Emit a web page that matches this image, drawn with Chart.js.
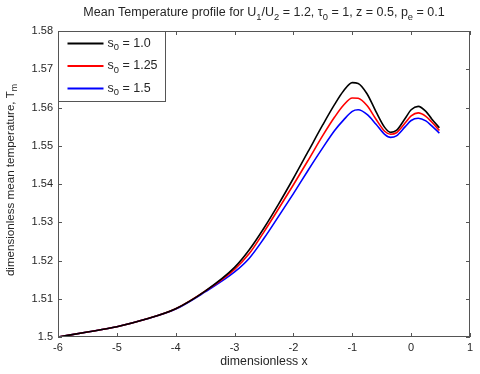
<!DOCTYPE html>
<html>
<head>
<meta charset="utf-8">
<script src="https://cdn.jsdelivr.net/npm/chart.js@4.4.1/dist/chart.umd.min.js"></script>
<style>
  html, body { margin: 0; padding: 0; background: #fff; }
  #wrap { width: 480px; height: 374px; }
</style>
</head>
<body>
<div id="wrap"><canvas id="chart" width="480" height="374"></canvas></div>
<script>
// values
const xs = [-6, -5.5, -5, -4.5, -4, -3.5, -3, -2.75, -2.5, -2.25, -2, -1.75, -1.5, -1.3, -1.15, -1.0, -0.9, -0.75, -0.6, -0.45, -0.35, -0.25, -0.1, 0.0, 0.12, 0.25, 0.35, 0.48];
const tS10  = [1.5, 1.5013, 1.5027, 1.5047, 1.5074, 1.5120, 1.5182, 1.5228, 1.5285, 1.5348, 1.5415, 1.5485, 1.5555, 1.5608, 1.5643, 1.5665, 1.5663, 1.5636, 1.5590, 1.5548, 1.5535, 1.5540, 1.5572, 1.5594, 1.5603, 1.5590, 1.5570, 1.5547];
const tS125 = [1.5, 1.5013, 1.5027, 1.5047, 1.5074, 1.5120, 1.5177, 1.5218, 1.5275, 1.5336, 1.5398, 1.5462, 1.5527, 1.5575, 1.5606, 1.5625, 1.5624, 1.5605, 1.5570, 1.5538, 1.5530, 1.5534, 1.5560, 1.5578, 1.5586, 1.5577, 1.5562, 1.5540];
const tS15  = [1.5, 1.5013, 1.5027, 1.5047, 1.5073, 1.5118, 1.5170, 1.5206, 1.5258, 1.5316, 1.5375, 1.5436, 1.5495, 1.5540, 1.5567, 1.5590, 1.5594, 1.5582, 1.5557, 1.5530, 1.5522, 1.5526, 1.5550, 1.5566, 1.5572, 1.5565, 1.5552, 1.5533];

const seriesNames = ['s_{0} = 1.0', 's_{0} = 1.25', 's_{0} = 1.5'];
const seriesColors = ['#000000', '#ff0000', '#0000ff'];
const xTicks = [-6, -5, -4, -3, -2, -1, 0, 1];
const yTicks = [1.5, 1.51, 1.52, 1.53, 1.54, 1.55, 1.56, 1.57, 1.58];

const titleText = 'Mean Temperature profile for U_{1}/U_{2} = 1.2, \u03c4_{0} = 1, z = 0.5, p_{e} = 0.1';
const xLabel = 'dimensionless x';
const yLabel = 'dimensionless mean temperature, T_{m}';

const FONT = '"Liberation Sans", Arial, sans-serif';
const AXIS = '#555';
const TEXT = '#262626';

// text with _{...} subscripts, drawn MATLAB-style
function parseRich(str) {
    const out = [];
    const re = /_\{([^}]*)\}/g;
    let last = 0, m;
    while ((m = re.exec(str))) {
        if (m.index > last) out.push({ t: str.slice(last, m.index), sub: false });
        out.push({ t: m[1], sub: true });
        last = re.lastIndex;
    }
    if (last < str.length) out.push({ t: str.slice(last), sub: false });
    return out;
}

function richWidth(ctx, segs, size) {
    let w = 0;
    segs.forEach(s => {
        ctx.font = (s.sub ? size * 0.75 : size) + 'px ' + FONT;
        w += ctx.measureText(s.t).width;
    });
    return w;
}

function drawRich(ctx, str, x, y, size, align) {
    const segs = parseRich(str);
    const w = richWidth(ctx, segs, size);
    let cx = align === 'center' ? x - w / 2 : x;
    ctx.textBaseline = 'middle';
    ctx.textAlign = 'left';
    segs.forEach(s => {
        ctx.font = (s.sub ? size * 0.75 : size) + 'px ' + FONT;
        ctx.fillText(s.t, cx, s.sub ? y + size * 0.35 : y);
        cx += ctx.measureText(s.t).width;
    });
}

const frame = {
    id: 'frame',
    afterDatasetsDraw(chart) {
        const { ctx, chartArea: a, scales } = chart;
        ctx.save();
        ctx.strokeStyle = AXIS;
        ctx.lineWidth = 1;
        ctx.strokeRect(Math.round(a.left) + 0.5, Math.round(a.top) + 0.5,
            Math.round(a.right - a.left) - 1, Math.round(a.bottom - a.top) - 1);
        const tl = 4;
        ctx.beginPath();
        xTicks.forEach(v => {
            const px = Math.round(scales.x.getPixelForValue(v)) + 0.5;
            ctx.moveTo(px, a.bottom); ctx.lineTo(px, a.bottom - tl);
            ctx.moveTo(px, a.top); ctx.lineTo(px, a.top + tl);
        });
        yTicks.forEach(v => {
            const py = Math.round(scales.y.getPixelForValue(v)) + 0.5;
            ctx.moveTo(a.left, py); ctx.lineTo(a.left + tl, py);
            ctx.moveTo(a.right, py); ctx.lineTo(a.right - tl, py);
        });
        ctx.stroke();

        // legend box, top-left corner of the axes
        const lx = Math.round(a.left) + 0.5, ly = Math.round(a.top) + 0.5;
        const lw = 107, lh = 70;
        ctx.fillStyle = '#fff';
        ctx.fillRect(lx, ly, lw, lh);
        ctx.strokeRect(lx, ly, lw, lh);
        chart.data.datasets.forEach((ds, i) => {
            const yy = ly + 12 + i * 22.5;
            ctx.strokeStyle = ds.borderColor;
            ctx.lineWidth = 2;
            ctx.beginPath();
            ctx.moveTo(lx + 9, yy); ctx.lineTo(lx + 45, yy);
            ctx.stroke();
            ctx.fillStyle = TEXT;
            drawRich(ctx, seriesNames[i], lx + 49, yy, 12.5, 'left');
        });

        // title and axis labels
        ctx.fillStyle = TEXT;
        drawRich(ctx, titleText, (a.left + a.right) / 2, 13, 12.5, 'center');
        drawRich(ctx, xLabel, (a.left + a.right) / 2, 362, 12.3, 'center');
        ctx.translate(11, 180);
        ctx.rotate(-Math.PI / 2);
        drawRich(ctx, yLabel, 0, 0, 11.6, 'center');
        ctx.restore();
    }
};

const datasets = [tS10, tS125, tS15].map((vals, i) => ({
    label: seriesNames[i],
    data: xs.map((x, j) => ({ x: x, y: vals[j] })),
    borderColor: seriesColors[i],
    borderWidth: 1.6,
    pointRadius: 0,
    fill: false,
    cubicInterpolationMode: 'monotone'
}));

new Chart(document.getElementById('chart'), {
    type: 'line',
    data: { datasets: datasets },
    options: {
        responsive: false,
        animation: false,
        layout: { padding: { top: 31, right: 10, left: 0, bottom: 0 } },
        plugins: { legend: { display: false }, title: { display: false }, tooltip: { enabled: false } },
        scales: {
            x: {
                type: 'linear',
                min: -6, max: 1,
                afterBuildTicks: s => { s.ticks = xTicks.map(v => ({ value: v })); },
                afterFit: s => { s.height = 37; },
                grid: { display: false, drawTicks: false },
                border: { display: false },
                ticks: { color: TEXT, font: { family: FONT, size: 11 }, padding: 4, maxRotation: 0,
                         callback: v => String(v) }
            },
            y: {
                min: 1.5, max: 1.58,
                afterBuildTicks: s => { s.ticks = yTicks.map(v => ({ value: v })); },
                afterFit: s => { s.width = 58; },
                grid: { display: false, drawTicks: false },
                border: { display: false },
                ticks: { color: TEXT, font: { family: FONT, size: 11 }, padding: 5,
                         callback: v => String(+v.toFixed(2)) }
            }
        }
    },
    plugins: [frame]
});
</script>
</body>
</html>
